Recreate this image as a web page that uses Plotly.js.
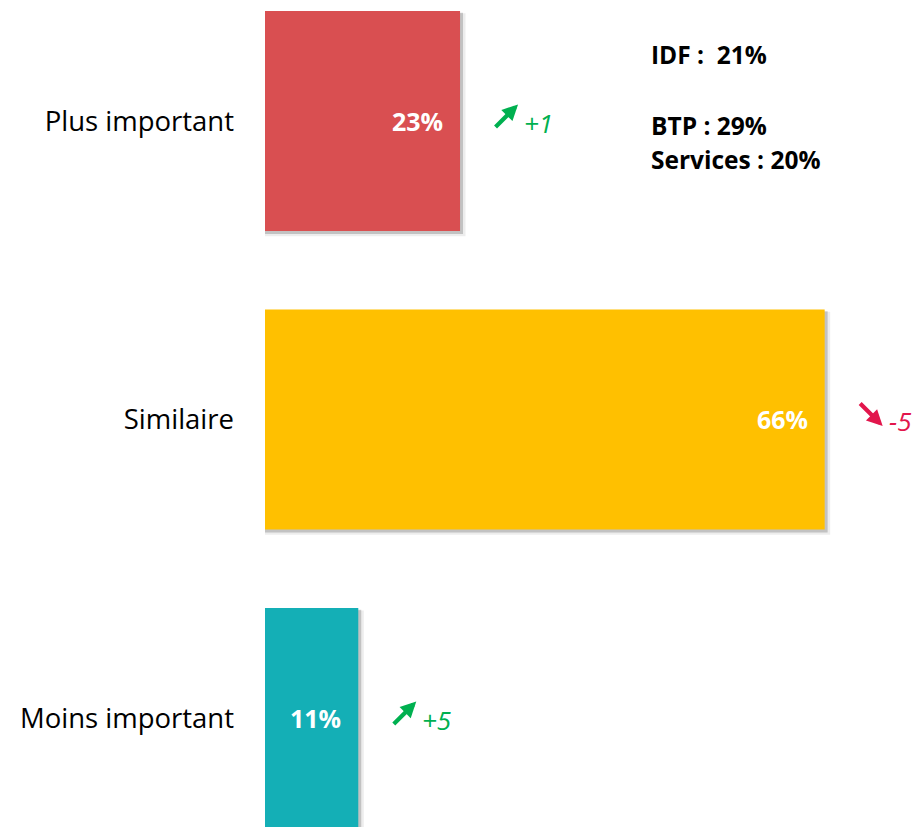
<!DOCTYPE html>
<html>
<head>
<meta charset="utf-8">
<script src="https://cdn.plot.ly/plotly-3.0.1.min.js"></script>
<style>html,body{margin:0;padding:0;background:#fff;}#chart{width:916px;height:827px;}</style>
</head>
<body>
<div id="chart"></div>
<script>
const categories = ["Plus important", "Similaire", "Moins important"];
const values = [23, 66, 11];
const valueLabels = ["23%", "66%", "11%"];
const barColors = ["#D94F51", "#FFC000", "#14AFB6"];
const deltas = ["+1", "-5", "+5"];
const deltaUp = [true, false, true];
const noteLines = ["IDF :  21%", "BTP : 29%", "Services : 20%"];

const FONT = "Open Sans, sans-serif";
const BAR_W = 0.737;

const shadow = {
  type: "bar", orientation: "h",
  x: values.map(v => v + 0.35), y: categories,
  width: BAR_W + 0.004, offset: -BAR_W / 2 + 0.006,
  marker: { color: "rgba(0,0,0,0.18)", line: { width: 0 } },
  hoverinfo: "skip", showlegend: false
};
const shadow2 = {
  type: "bar", orientation: "h",
  x: values.map(v => v + 0.65), y: categories,
  width: BAR_W + 0.01, offset: -BAR_W / 2 + 0.008,
  marker: { color: "rgba(0,0,0,0.07)", line: { width: 0 } },
  hoverinfo: "skip", showlegend: false
};
const bars = {
  type: "bar", orientation: "h",
  x: values, y: categories, width: BAR_W,
  marker: { color: barColors, line: { width: 0 } },
  hoverinfo: "skip", showlegend: false
};

const annotations = [];
categories.forEach((c, i) => {
  annotations.push({
    x: values[i], y: c, xref: "x", yref: "y", text: valueLabels[i],
    showarrow: false, xanchor: "right", yanchor: "middle", xshift: -15,
    font: { family: FONT, size: 25, color: "#ffffff", weight: "bold" }
  });
  const col = deltaUp[i] ? "#00B050" : "#E2164C";
  annotations.push({
    x: values[i], y: c, xref: "x", yref: "y", text: "",
    showarrow: true, arrowhead: 2, arrowsize: 0.75, arrowwidth: 4.2, arrowcolor: col,
    xshift: 58, yshift: deltaUp[i] ? 16.5 : -6.5,
    axref: "pixel", ayref: "pixel", ax: -24, ay: deltaUp[i] ? 24 : -24,
    standoff: 0, startstandoff: 0
  });
  annotations.push({
    x: values[i], y: c, xref: "x", yref: "y", text: deltas[i],
    showarrow: false, xanchor: "left", yanchor: "middle", xshift: 62, yshift: -2,
    font: { family: FONT, size: 26, color: col, style: "italic" }
  });
});
const noteY = [54, 125, 159];
noteLines.forEach((t, i) => {
  annotations.push({
    x: (649 - 265) / 651, y: 1 - noteY[i] / 827, xref: "paper", yref: "paper",
    text: t, showarrow: false, xanchor: "left", yanchor: "middle",
    font: { family: FONT, size: 24.5, color: "#000000", weight: "bold" }
  });
});

const layout = {
  width: 916, height: 827,
  margin: { l: 265, r: 0, t: 0, b: 0, pad: 0 },
  paper_bgcolor: "#ffffff", plot_bgcolor: "#ffffff",
  barmode: "overlay",
  showlegend: false,
  xaxis: { range: [0, 76.77], visible: false, fixedrange: true },
  yaxis: {
    type: "category", categoryorder: "array", categoryarray: categories,
    range: [2.365, -0.405],
    showgrid: false, zeroline: false, showline: false,
    ticks: "", ticklabelstandoff: 30,
    tickfont: { family: FONT, size: 27.5, color: "#000000" },
    fixedrange: true
  },
  annotations: annotations
};

Plotly.newPlot("chart", [shadow2, shadow, bars], layout, { displayModeBar: false, staticPlot: true });
</script>
</body>
</html>
